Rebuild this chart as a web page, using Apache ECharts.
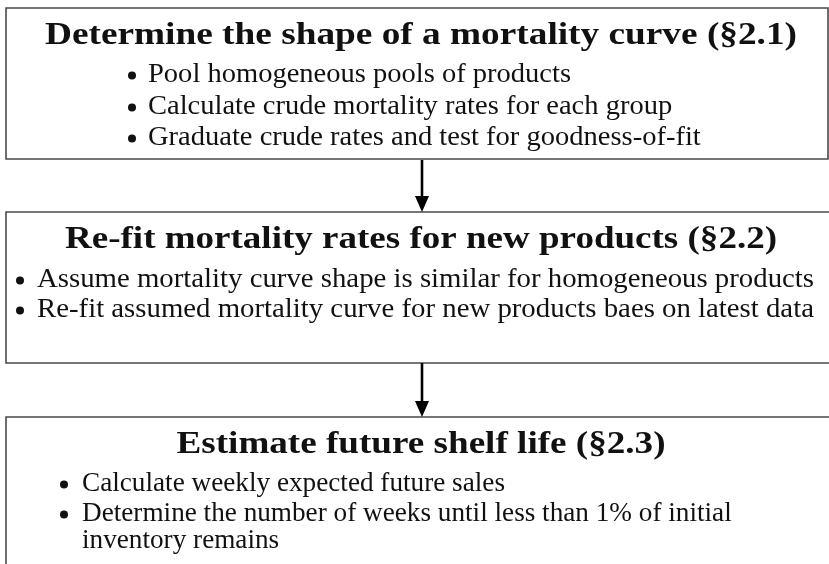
<!DOCTYPE html>
<html>
<head>
<meta charset="utf-8">
<script src="https://cdn.jsdelivr.net/npm/echarts@6/dist/echarts.min.js"></script>
<style>
html, body { margin: 0; padding: 0; background: #fff; overflow: hidden; }
#chart { width: 829px; height: 564px; }
</style>
</head>
<body>
<div id="chart"></div>
<script>
// steps of the flow, top to bottom
var titles = [
  'Determine the shape of a mortality curve (\u00a72.1)',
  'Re-fit mortality rates for new products (\u00a72.2)',
  'Estimate future shelf life (\u00a72.3)'
];
// each bullet is a list of its wrapped lines
var bullets1 = [
  ['Pool homogeneous pools of products'],
  ['Calculate crude mortality rates for each group'],
  ['Graduate crude rates and test for goodness-of-fit']
];
var bullets2 = [
  ['Assume mortality curve shape is similar for homogeneous products'],
  ['Re-fit assumed mortality curve for new products baes on latest data']
];
var bullets3 = [
  ['Calculate weekly expected future sales'],
  ['Determine the number of weeks until less than 1% of initial', 'inventory remains']
];
var bullets = [bullets1, bullets2, bullets3];

var FONT = '"Liberation Serif", serif';
var TITLE_SIZE = 31.5;
var TEXT_SIZE = 27;
var ctx = document.createElement('canvas').getContext('2d');
function widthOf(text, font) {
  ctx.font = font;
  return ctx.measureText(text).width;
}

// layout of each box (pixels)
var boxes = [
  { x: 6, y: 8, w: 822, h: 151, titleY: 46, titleW: 752, bulletX: 132, textX: 148, lineY: [83, 115, 146], refW: 423 },
  { x: 6, y: 212, w: 900, h: 151, titleY: 250, titleW: 712, bulletX: 20, textX: 37, lineY: [288, 318], refW: 777 },
  { x: 6, y: 417, w: 900, h: 200, titleY: 455, titleW: 489, bulletX: 64, textX: 82, lineY: [492, 522, 549], refW: 423 }
];
var centerX = 421;

var elements = [];
boxes.forEach(function (b, i) {
  elements.push({
    type: 'rect',
    shape: { x: b.x, y: b.y, width: b.w, height: b.h },
    style: { fill: '#fff', stroke: '#4a4a4a', lineWidth: 1.6 }
  });
  var tf = 'bold ' + TITLE_SIZE + 'px ' + FONT;
  elements.push({
    type: 'text',
    x: centerX, y: b.titleY - TITLE_SIZE * 0.31,
    scaleX: b.titleW / widthOf(titles[i], tf),
    style: { text: titles[i], font: tf, fill: '#111', textAlign: 'center', textVerticalAlign: 'middle' }
  });
  var bf = TEXT_SIZE + 'px ' + FONT;
  var sx = b.refW / widthOf(bullets[i][0][0], bf);
  var li = 0;
  bullets[i].forEach(function (item) {
    item.forEach(function (line, k) {
      var by = b.lineY[li++];
      if (k === 0) {
        elements.push({
          type: 'circle',
          shape: { cx: b.bulletX, cy: by - 7.5, r: 4 },
          style: { fill: '#111' }
        });
      }
      elements.push({
        type: 'text',
        x: b.textX, y: by - TEXT_SIZE * 0.30,
        scaleX: sx,
        style: { text: line, font: bf, fill: '#111', textAlign: 'left', textVerticalAlign: 'middle' }
      });
    });
  });
});

// arrows between boxes
[[160, 212], [363, 417]].forEach(function (a) {
  elements.push({
    type: 'line',
    shape: { x1: 422, y1: a[0], x2: 422, y2: a[1] - 14 },
    style: { stroke: '#000', lineWidth: 2.6 }
  });
  elements.push({
    type: 'polygon',
    shape: { points: [[415, a[1] - 16], [429, a[1] - 16], [422, a[1]]] },
    style: { fill: '#000' }
  });
});

var chart = echarts.init(document.getElementById('chart'));
chart.setOption({
  backgroundColor: '#fff',
  animation: false,
  graphic: { elements: elements }
});
</script>
</body>
</html>
